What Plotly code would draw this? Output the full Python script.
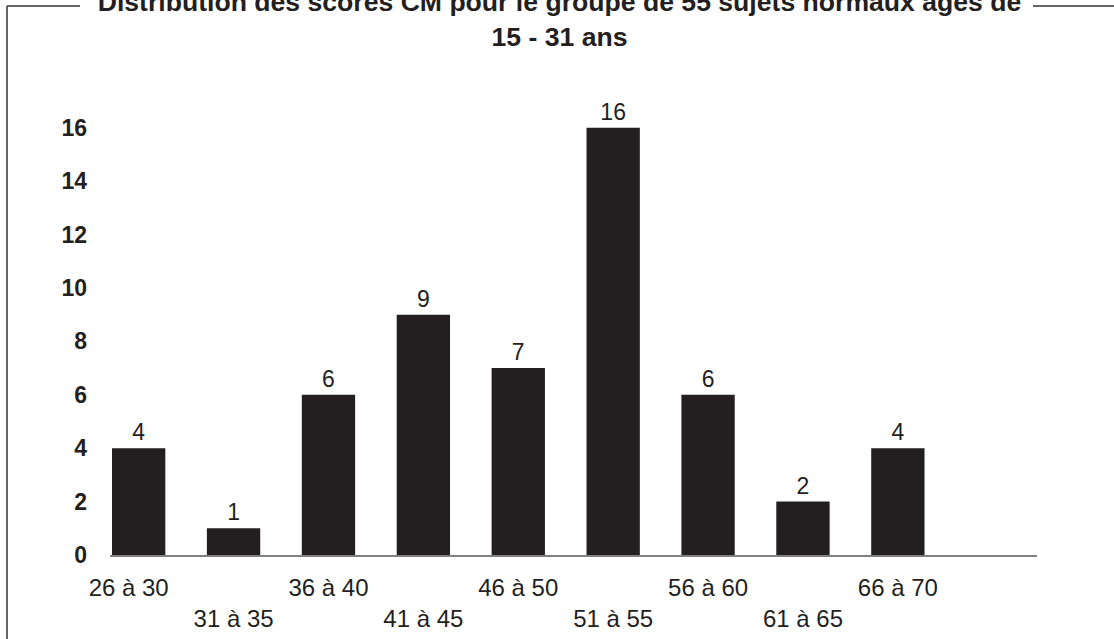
import plotly.graph_objects as go

# Score classes and number of subjects in each class
categories = ["26 à 30", "31 à 35", "36 à 40", "41 à 45", "46 à 50",
              "51 à 55", "56 à 60", "61 à 65", "66 à 70"]
counts = [4, 1, 6, 9, 7, 16, 6, 2, 4]
y_ticks = [0, 2, 4, 6, 8, 10, 12, 14, 16]

title_lines = ["Distribution des scores CM pour le groupe de 55 sujets normaux âgés de",
               "15 - 31 ans"]

W, H = 1114, 639
ML, MR, MT, MB = 110, 77, 101, 84
PW, PH = W - ML - MR, H - MT - MB

INK = "#231f20"
FONT = "Liberation Sans, Arial, Helvetica, sans-serif"


def px(x):
    return (x - ML) / PW


def py(y):
    return (H - MB - y) / PH


# alternate labels drop to a second row; the first one is nudged inwards
tick_text = []
for i, c in enumerate(categories):
    if i == 0:
        tick_text.append(c + "\u00a0" * 3)
    elif i % 2 == 1:
        tick_text.append("<br>" + c)
    else:
        tick_text.append(c)

fig = go.Figure(
    go.Bar(
        x=list(range(len(categories))),
        y=counts,
        text=[str(v) for v in counts],
        textposition="outside",
        textfont=dict(family=FONT, size=23, color=INK),
        cliponaxis=False,
        marker=dict(color=INK, line=dict(width=0)),
        hoverinfo="skip",
    )
)

frame = dict(color="#333333", width=1.5)
fig.add_shape(type="line", xref="paper", yref="paper",
              x0=px(7), x1=px(80), y0=py(6), y1=py(6), line=frame)
fig.add_shape(type="line", xref="paper", yref="paper",
              x0=px(1033), x1=px(1120), y0=py(6), y1=py(6), line=frame)
fig.add_shape(type="line", xref="paper", yref="paper",
              x0=px(7), x1=px(7), y0=py(6), y1=py(645), line=frame)

fig.update_layout(
    width=W, height=H,
    margin=dict(l=ML, r=MR, t=MT, b=MB, autoexpand=False),
    paper_bgcolor="white", plot_bgcolor="white",
    bargap=0.438,
    showlegend=False,
    font=dict(family=FONT, color=INK),
    title=dict(
        text="<br>".join(title_lines),
        font=dict(family=FONT, size=26.6, color=INK, weight="bold"),
        x=559.5 / W, xref="container", xanchor="center",
        y=1 - 11 / H, yref="container", yanchor="middle",
    ),
    xaxis=dict(
        tickmode="array",
        tickvals=list(range(len(categories))),
        ticktext=tick_text,
        range=[-0.302, 9.466],
        showline=True, linecolor="#808080", linewidth=1.5,
        showgrid=False, zeroline=False, ticks="",
        tickfont=dict(family=FONT, size=24, color=INK),
        ticklabelstandoff=10,
        fixedrange=True,
    ),
    yaxis=dict(
        range=[0, 17],
        tickmode="array", tickvals=y_ticks,
        ticktext=[f"<b>{v}</b>" for v in y_ticks],
        showline=False, showgrid=False, zeroline=False, ticks="",
        tickfont=dict(family=FONT, size=23, color=INK),
        ticklabelstandoff=22,
        fixedrange=True,
    ),
)

fig.write_html("out.html", config={"displayModeBar": False})
